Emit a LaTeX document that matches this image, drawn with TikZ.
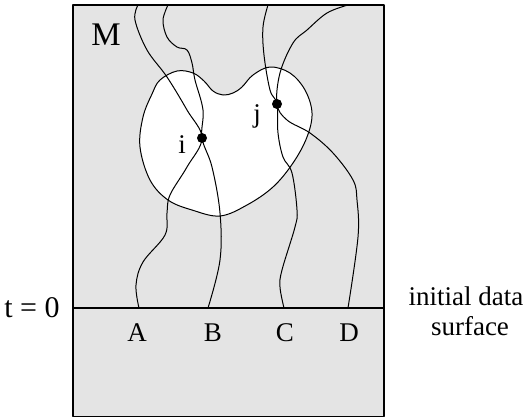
\documentclass[tikz,border=0pt]{standalone}
\usepackage{fontspec}
\setmainfont{Liberation Serif}
\definecolor{manifoldgray}{RGB}{228,228,228}

\tikzset{
  worldline/.style={line width=1pt},
  event/.style={circle, fill=black, inner sep=0pt, minimum size=10pt},
  lbl/.style={font=\fontsize{27}{30}\selectfont, inner sep=0pt, anchor=base}
}

\begin{document}
\begin{tikzpicture}[x=1pt, y=-1pt, line join=round]
\useasboundingbox (0,0) rectangle (525,418);

% Manifold
\draw[fill=manifoldgray, line width=1.3pt] (73,5) rectangle (384,416.5);
\node[lbl, font=\fontsize{33}{38}\selectfont] (M) at (106,45) {M};

% Region around the events
\draw[fill=white, line width=1pt] plot[smooth cycle, tension=0.6] coordinates {
  (160,80) (177,71) (193,73) (204,81) (213,91) (223,95) (233,93) (242,87)
  (253,75) (270,67) (290,73) (305,90) (312,113) (307,137) (293,163)
  (273,187) (247,205) (220,216) (192,210) (168,200) (150,180) (140,147)
  (143,117) (152,94)};

% Initial data surface
\draw[line width=1.8pt] (73,308) -- (384,308);
\coordinate (A) at (139,308);
\coordinate (B) at (208,308);
\coordinate (C) at (284,308);
\coordinate (D) at (348,308);

% Events
\node[event] (i) at (202,138) {};
\node[event] (j) at (277,104) {};

% Worldlines
\draw[worldline] plot[smooth, tension=0.6] coordinates {
  (A) (136,285) (143,262) (165,235) (167,213) (170,195) (187,167) (i)
  (187,110) (167,77) (147,50) (135,20) (138,5)};
\draw[worldline] plot[smooth, tension=0.6] coordinates {
  (B) (220,260) (220,213) (212,167) (i)
  (203,110) (195,80) (192,63) (187,50) (177,47) (167,37) (163,20) (168,5)};
\draw[worldline] plot[smooth, tension=0.6] coordinates {
  (C) (280,287) (282,270) (295,227) (297,210) (292,173) (283,157) (278,133) (j)
  (270,90) (264,55) (263,27) (268,5)};
\draw[worldline] plot[smooth, tension=0.6] coordinates {
  (D) (358,237) (357,200) (353,180) (333,153) (310,133) (287,120) (j)
  (280,73) (293,43) (307,30) (327,13) (348,5)};

% Labels
\node[lbl] (ilbl) at (182,153) {i};
\node[lbl] (jlbl) at (257,122) {j};
\foreach \p/\x in {A/137,B/213,C/285,D/349} {
  \node[lbl] at (\x,341) {\p};
}
\node[lbl, font=\fontsize{30}{34}\selectfont] (t0) at (32,317) {t = 0};
\node[lbl] (surf1) at (466,305) {initial data};
\node[lbl] (surf2) at (470,335) {surface};

\end{tikzpicture}
\end{document}
